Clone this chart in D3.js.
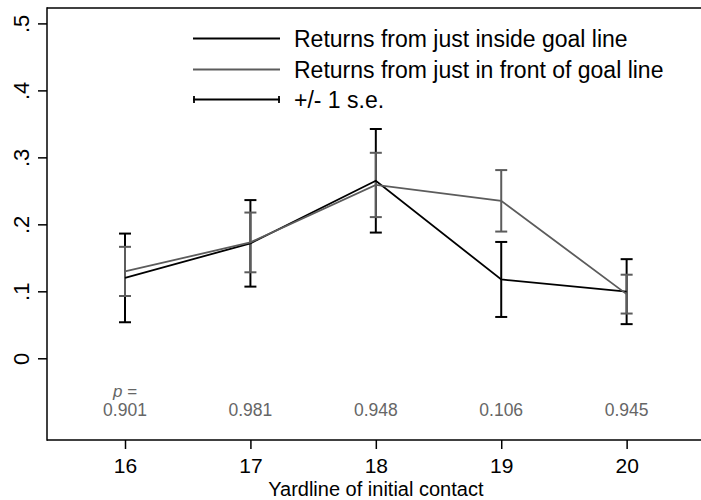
<!DOCTYPE html>
<html><head><meta charset="utf-8">
<script src="https://cdn.jsdelivr.net/npm/d3@7"></script>
<style>
html,body{margin:0;padding:0;background:#fff;}
svg{display:block;font-family:"Liberation Sans",Arial,Helvetica,sans-serif;}
</style></head><body>
<svg id="chart" width="701" height="500"></svg>
<script>
const yardlines = [16, 17, 18, 19, 20];
const insideMean = [0.120, 0.1716, 0.265, 0.1177, 0.0995];
const insideSE   = [0.0662, 0.0646, 0.0773, 0.0560, 0.0485];
const frontMean  = [0.1297, 0.173, 0.2588, 0.2351, 0.0958];
const frontSE    = [0.0367, 0.0446, 0.0480, 0.0459, 0.0290];
const pValues    = ["0.901", "0.981", "0.948", "0.106", "0.945"];
const yTicks     = [0, 0.1, 0.2, 0.3, 0.4, 0.5];
const yTickLabels = ["0", ".1", ".2", ".3", ".4", ".5"];
const legendLabels = ["Returns from just inside goal line", "Returns from just in front of goal line", "+/- 1 s.e."];

(function () {
const BLACK = "#000", GREY = "#5c5c5c", PGREY = "#666";
const svg = d3.select("#chart");
const pLeft = 47, pTop = 8, pBottom = 440, pRight = 701;

const x = d3.scaleLinear().domain([15.378, 20.593]).range([pLeft, pRight]);
const y = d3.scaleLinear().domain([-0.122, 0.523]).range([pBottom, pTop]);

// frame
const frame = svg.append("g").attr("stroke", "#000").attr("stroke-width", 1.5).attr("fill", "none");
frame.append("line").attr("x1", pLeft).attr("x2", pLeft).attr("y1", pTop - 0.75).attr("y2", pBottom + 0.75);
frame.append("line").attr("x1", pLeft).attr("x2", pRight).attr("y1", pBottom).attr("y2", pBottom);
frame.append("line").attr("x1", pLeft).attr("x2", pRight).attr("y1", pTop).attr("y2", pTop);

// y axis
const yAxis = svg.append("g").attr("transform", `translate(${pLeft},0)`)
  .call(d3.axisLeft(y).tickValues(yTicks).tickSize(9).tickFormat((d, i) => yTickLabels[i]));
yAxis.select(".domain").remove();
yAxis.selectAll(".tick line").attr("stroke", "#000").attr("stroke-width", 1.5);
yAxis.selectAll(".tick text")
  .attr("x", 0).attr("y", 0).attr("dy", 0)
  .attr("transform", "translate(-18.5,0) rotate(-90)")
  .attr("text-anchor", "middle")
  .attr("font-size", 22).attr("fill", "#000")
  .attr("font-family", "Liberation Sans, Arial, sans-serif");

// x axis
const xAxis = svg.append("g").attr("transform", `translate(0,${pBottom})`)
  .call(d3.axisBottom(x).tickValues(yardlines).tickSize(9).tickFormat(d3.format("d")));
xAxis.select(".domain").remove();
xAxis.selectAll(".tick line").attr("stroke", "#000").attr("stroke-width", 1.5);
xAxis.selectAll(".tick text").attr("y", 32.5).attr("dy", 0)
  .attr("font-size", 21).attr("fill", "#000")
  .attr("font-family", "Liberation Sans, Arial, sans-serif");

svg.append("text").attr("x", x(18)).attr("y", 496).attr("text-anchor", "middle")
  .attr("font-size", 20).text("Yardline of initial contact");

// p-values
svg.append("text").attr("x", x(16)).attr("y", 396.5).attr("text-anchor", "middle")
  .attr("font-size", 17).attr("fill", PGREY)
  .html('<tspan font-style="italic">p</tspan> =');
svg.append("g").selectAll("text").data(yardlines).join("text")
  .attr("x", d => x(d)).attr("y", 415.5).attr("text-anchor", "middle")
  .attr("font-size", 17.5).attr("fill", PGREY)
  .text((d, i) => pValues[i]);

// error bars
function errBars(means, ses, color, width, capW) {
  const g = svg.append("g").attr("stroke", color).attr("stroke-width", width).attr("fill", "none");
  yardlines.forEach((d, i) => {
    const lo = means[i] - ses[i], hi = means[i] + ses[i];
    g.append("line").attr("x1", x(d)).attr("x2", x(d)).attr("y1", y(lo)).attr("y2", y(hi));
    g.append("line").attr("x1", x(d) - capW / 2).attr("x2", x(d) + capW / 2).attr("y1", y(lo)).attr("y2", y(lo));
    g.append("line").attr("x1", x(d) - capW / 2).attr("x2", x(d) + capW / 2).attr("y1", y(hi)).attr("y2", y(hi));
  });
}
errBars(insideMean, insideSE, BLACK, 2, 12);
errBars(frontMean, frontSE, GREY, 2, 12);

// lines
const line = d3.line().x((d, i) => x(yardlines[i])).y(d => y(d));
svg.append("path").datum(insideMean).attr("d", line).attr("fill", "none").attr("stroke", BLACK).attr("stroke-width", 1.8);
svg.append("path").datum(frontMean).attr("d", line).attr("fill", "none").attr("stroke", GREY).attr("stroke-width", 1.8);

// legend
const lg = svg.append("g");
const lx1 = 193, lx2 = 280, ly = [38.5, 69.5, 99.5];
lg.append("line").attr("x1", lx1).attr("x2", lx2).attr("y1", ly[0]).attr("y2", ly[0]).attr("stroke", BLACK).attr("stroke-width", 1.8);
lg.append("line").attr("x1", lx1).attr("x2", lx2).attr("y1", ly[1]).attr("y2", ly[1]).attr("stroke", GREY).attr("stroke-width", 1.8);
lg.append("line").attr("x1", lx1).attr("x2", lx2).attr("y1", ly[2]).attr("y2", ly[2]).attr("stroke", BLACK).attr("stroke-width", 1.8);
lg.append("line").attr("x1", lx1 + 1).attr("x2", lx1 + 1).attr("y1", ly[2] - 3.5).attr("y2", ly[2] + 3.5).attr("stroke", BLACK).attr("stroke-width", 1.8);
lg.append("line").attr("x1", lx2 - 1).attr("x2", lx2 - 1).attr("y1", ly[2] - 3.5).attr("y2", ly[2] + 3.5).attr("stroke", BLACK).attr("stroke-width", 1.8);
lg.selectAll("text").data(legendLabels).join("text")
  .attr("x", 294).attr("y", (d, i) => ly[i] + 8)
  .attr("font-size", 23).attr("fill", "#000").text(d => d);
})();
</script>
</body></html>
